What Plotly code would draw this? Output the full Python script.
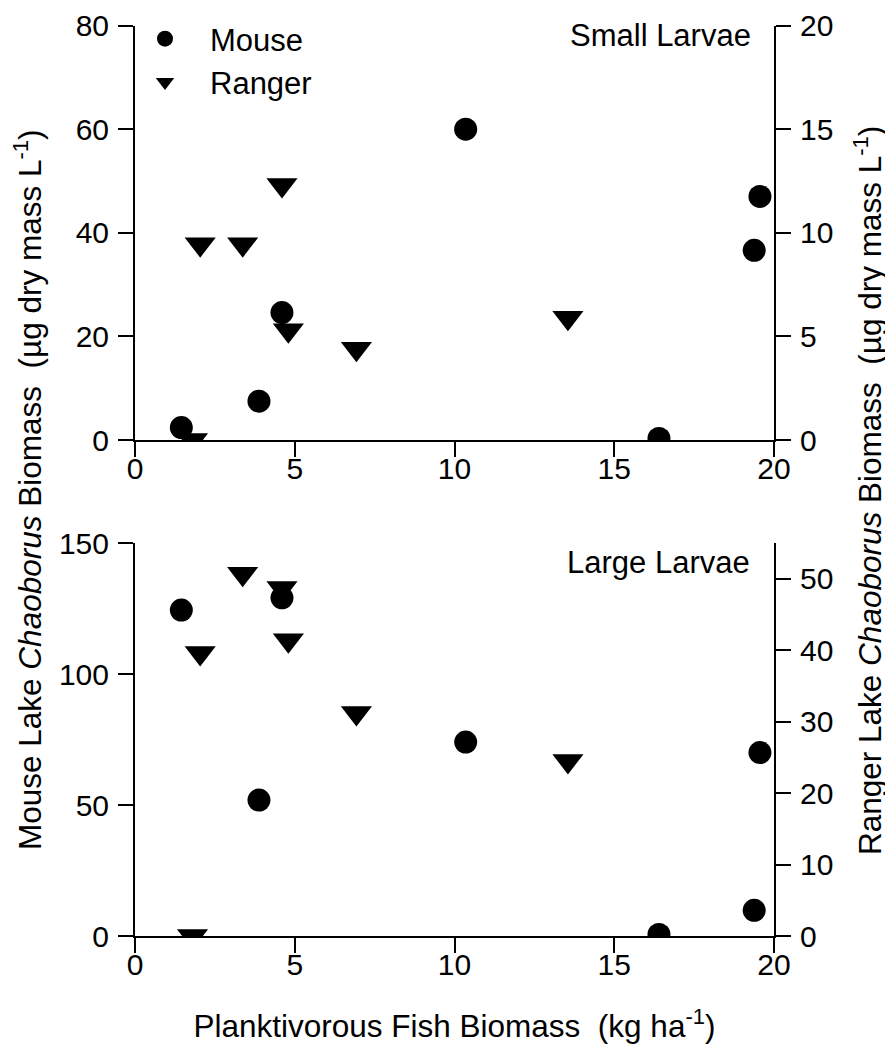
import plotly.graph_objects as go

# Planktivorous fish biomass (kg/ha)
mouse_x = [1.45, 3.88, 4.6, 10.35, 16.4, 19.38, 19.56]
ranger_x = [1.8, 2.04, 3.37, 4.6, 4.8, 6.93, 13.55]

# Small larvae (ug dry mass / L)
small_mouse = [2.4, 7.5, 24.6, 60.0, 0.3, 36.6, 47.0]
small_ranger = [0.0, 9.45, 9.45, 12.3, 5.3, 4.4, 5.9]

# Large larvae (ug dry mass / L)
large_mouse = [124.4, 51.9, 129.1, 74.0, 0.6, 9.8, 70.0]
large_ranger = [0.0, 39.6, 50.7, 48.7, 41.4, 31.2, 24.5]

x_ticks = [0, 5, 10, 15, 20]
small_left_ticks = [0, 20, 40, 60, 80]
small_right_ticks = [0, 5, 10, 15, 20]
large_left_ticks = [0, 50, 100, 150]
large_right_ticks = [0, 10, 20, 30, 40, 50]

FONT = "Liberation Sans"
FS = 30
TS = 31.5

# the page body adds an 8px offset; work in target-image pixels and shift
OFF = 8
W, H = 893 - OFF, 1058 - OFF
PL, PR = 135 - OFF, 774 - OFF          # plot area left/right (figure px)
PT, PB = 0, 936 - OFF                  # paper area top/bottom (figure px)
TOP_TOP = 25.5 - OFF                   # top of upper panel
TOP_BOT = 440 - OFF                    # bottom of upper panel
BOT_TOP = 543 - OFF                    # top of lower panel
pw, ph = PR - PL, PB - PT


def px(xr):
    return (xr - OFF - PL) / pw


def py(yr):
    return (PB - (yr - OFF)) / ph


circ = dict(symbol="circle", size=23, color="black")
tri = dict(symbol="triangle-down", size=27, color="black")

fig = go.Figure()
fig.add_trace(go.Scatter(x=mouse_x, y=small_mouse, mode="markers", marker=circ, name="Mouse",
                         xaxis="x", yaxis="y"))
fig.add_trace(go.Scatter(x=ranger_x, y=small_ranger, mode="markers", marker=tri, name="Ranger",
                         xaxis="x", yaxis="y2"))
fig.add_trace(go.Scatter(x=mouse_x, y=large_mouse, mode="markers", marker=circ, name="Mouse",
                         showlegend=False, xaxis="x2", yaxis="y3"))
fig.add_trace(go.Scatter(x=ranger_x, y=large_ranger, mode="markers", marker=tri, name="Ranger",
                         showlegend=False, xaxis="x2", yaxis="y4"))

axis_common = dict(showline=True, linecolor="black", linewidth=2, ticks="outside", ticklen=15,
                   tickwidth=2, tickcolor="black", showgrid=False, zeroline=False, automargin=False,
                   ticklabeloverflow="allow",
                   tickfont=dict(family=FONT, size=FS, color="black"))

top_dom = [(PB - TOP_BOT) / ph, (PB - TOP_TOP) / ph]
bot_dom = [0.0, (PB - BOT_TOP) / ph]

fig.update_layout(
    xaxis=dict(range=[0, 20], tickvals=x_ticks, anchor="y", domain=[0, 1], ticklabelstandoff=-14,
               **axis_common),
    xaxis2=dict(range=[0, 20], tickvals=x_ticks, anchor="y3", domain=[0, 1], ticklabelstandoff=-14,
                title=dict(text="Planktivorous Fish Biomass\u00a0 (kg ha<sup>-1</sup>)",
                           font=dict(family=FONT, size=TS, color="black"), standoff=35),
                **axis_common),
    yaxis=dict(range=[0, 80], tickvals=small_left_ticks, domain=top_dom, anchor="x",
               ticklabelstandoff=3, **axis_common),
    yaxis2=dict(range=[0, 20], tickvals=small_right_ticks, side="right", overlaying="y",
                anchor="x", ticklabelstandoff=3, **axis_common),
    yaxis3=dict(range=[0, 150], tickvals=large_left_ticks, domain=bot_dom, anchor="x2",
                ticklabelstandoff=3, **axis_common),
    yaxis4=dict(range=[0, 55], tickvals=large_right_ticks, side="right", overlaying="y3",
                anchor="x2", ticklabelstandoff=3, **axis_common),
)

fig.update_layout(
    width=W, height=H,
    margin=dict(l=PL, r=W - PR, t=PT, b=H - PB),
    paper_bgcolor="white", plot_bgcolor="white",
    font=dict(family=FONT, size=FS, color="black"),
    showlegend=True,
    legend=dict(x=px(165 - 45), y=py(12), xanchor="left", yanchor="top", bgcolor="rgba(0,0,0,0)",
                font=dict(family=FONT, size=31, color="black"), itemsizing="trace",
                itemwidth=80, tracegroupgap=0),
    annotations=[
        dict(text="Small Larvae", xref="paper", yref="paper", x=px(753), y=py(36),
             xanchor="right", yanchor="middle", showarrow=False,
             font=dict(family=FONT, size=31, color="black")),
        dict(text="Large Larvae", xref="paper", yref="paper", x=px(752), y=py(562),
             xanchor="right", yanchor="middle", showarrow=False,
             font=dict(family=FONT, size=31, color="black")),
        dict(text="Mouse Lake <i>Chaoborus</i> Biomass\u00a0 (\u00b5g dry mass L<sup>-1</sup>)",
             xref="paper", yref="paper", x=px(28), y=py(490),
             xanchor="center", yanchor="middle",
             textangle=-90, showarrow=False, font=dict(family=FONT, size=TS, color="black")),
        dict(text="Ranger Lake <i>Chaoborus</i> Biomass\u00a0 (\u00b5g dry mass L<sup>-1</sup>)",
             xref="paper", yref="paper", x=px(868), y=py(490),
             xanchor="center", yanchor="middle",
             textangle=-90, showarrow=False, font=dict(family=FONT, size=TS, color="black")),
    ],
)

fig.write_html("out.html")
